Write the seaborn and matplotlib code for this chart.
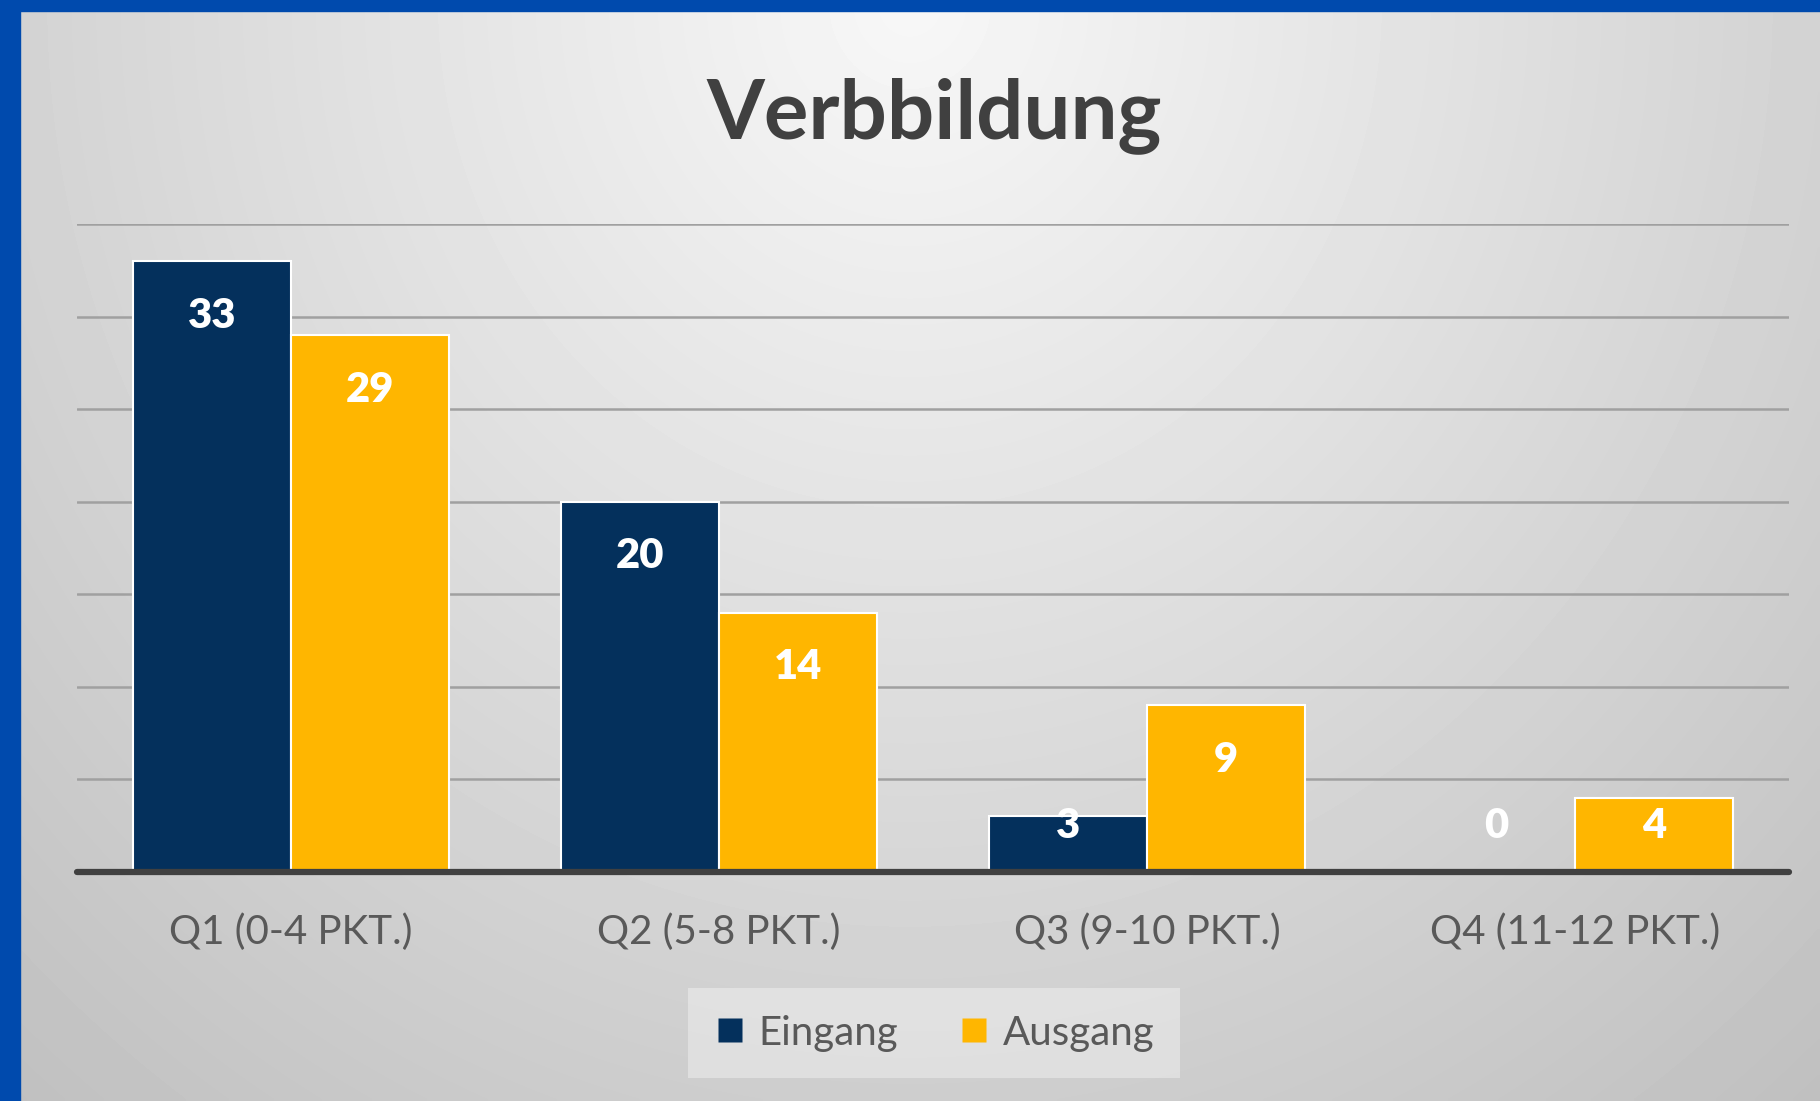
import numpy as np
import pandas as pd
import matplotlib
matplotlib.use("Agg")
import matplotlib.pyplot as plt
import seaborn as sns
from matplotlib.patches import Rectangle
from matplotlib.lines import Line2D

# data
categories = ["Q1 (0-4 PKT.)", "Q2 (5-8 PKT.)", "Q3 (9-10 PKT.)", "Q4 (11-12 PKT.)"]
series = ["Eingang", "Ausgang"]
eingang = [33, 20, 3, 0]
ausgang = [29, 14, 9, 4]
colors = ["#04305C", "#FFB600"]

df = pd.DataFrame({
    "Kategorie": categories * 2,
    "Serie": [series[0]] * len(eingang) + [series[1]] * len(ausgang),
    "Wert": eingang + ausgang,
})

sns.set_theme(style="white")
plt.rcParams["font.family"] = ["Lato", "DejaVu Sans"]

fig = plt.figure(figsize=(18.2, 11.01), dpi=100)

# soft grey gradient background, lightest at top centre
bg = fig.add_axes([0, 0, 1, 1], zorder=-10)
u, v = np.meshgrid(np.linspace(0, 1, 400), np.linspace(0, 1, 250))
r = np.sqrt(((u - 0.5) / 0.62) ** 2 + (v / 1.1) ** 2)
shade = 0.97 - 0.18 * np.clip(r, 0, 1.3)
bg.imshow(shade, cmap="gray", vmin=0, vmax=1, aspect="auto", interpolation="bilinear")
bg.axis("off")

# blue frame on top and left
fig.patches.append(Rectangle((0, 1 - 11 / 1101), 1, 11 / 1101, transform=fig.transFigure,
                             color="#004AAD", zorder=5))
fig.patches.append(Rectangle((0, 0), 20 / 1820, 1, transform=fig.transFigure,
                             color="#004AAD", zorder=5))

ax = fig.add_axes([0.0423, 0.208, 0.9407, 0.5885])
ax.patch.set_alpha(0)

sns.barplot(data=df, x="Kategorie", y="Wert", hue="Serie", palette=colors,
            width=0.74, gap=0, saturation=1, edgecolor="white", linewidth=1.5,
            legend=False, ax=ax)

ax.set_xlim(-0.5, 3.5)
ax.set_ylim(0, 35)
ax.set_yticks(range(5, 36, 5))
ax.set_yticklabels([])
ax.yaxis.grid(True, color="#a0a0a0", linewidth=1.8)
ax.set_axisbelow(True)
ax.axhline(0, color="#404040", linewidth=4.5, zorder=5, clip_on=False)
ax.tick_params(axis="y", length=0)
ax.tick_params(axis="x", length=0, pad=30, labelsize=29, labelcolor="#595959")
ax.set_xlabel("")
ax.set_ylabel("")
sns.despine(ax=ax, left=True, bottom=True)

# value labels inside the bar tops
for container in ax.containers:
    for bar in container:
        h = bar.get_height()
        x = bar.get_x() + bar.get_width() / 2
        y = max(h - 2.95, 2.5)
        ax.text(x, y, f"{h:.0f}", ha="center", va="center", color="white",
                fontweight="heavy", fontsize=30, zorder=6)

fig.text(934 / 1820, 1 - 138 / 1101, "Verbbildung", ha="center", va="baseline",
         fontsize=60, fontweight="bold", color="#404040")

handles = [Line2D([], [], marker="s", linestyle="none", markersize=17,
                  markerfacecolor=c, markeredgecolor="none") for c in colors]
fig.legend(handles, series, loc="center", bbox_to_anchor=(934 / 1820, 1 - 1033 / 1101),
           ncol=2, frameon=True, facecolor="white", framealpha=0.35, edgecolor="none",
           fontsize=29, labelcolor="#595959", handletextpad=0.3, columnspacing=1.5,
           borderpad=0.65, fancybox=False, handlelength=0.8)

fig.savefig("out.png", dpi=100)
